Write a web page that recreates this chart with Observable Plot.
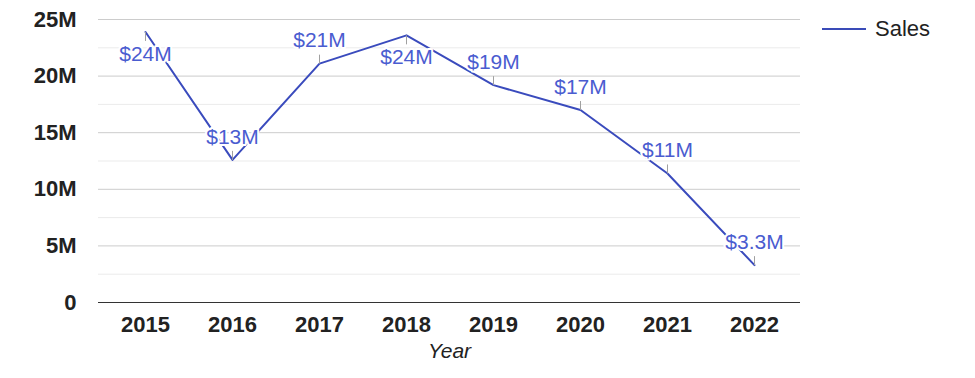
<!DOCTYPE html>
<html>
<head>
<meta charset="utf-8">
<script src="https://cdn.jsdelivr.net/npm/d3@7"></script>
<script src="https://cdn.jsdelivr.net/npm/@observablehq/plot@0.6"></script>
<style>
  html, body { margin: 0; padding: 0; background: #fff; }
  #wrap { position: relative; width: 975px; height: 378px; font-family: Arial, "Liberation Sans", sans-serif; }
  #legend { position: absolute; left: 822px; top: 16px; display: flex; align-items: center; font-size: 22px; color: #222; }
  #legend .sw { width: 44px; height: 2px; background: #3a4bb8; margin-right: 9px; }
</style>
</head>
<body>
<div id="wrap">
  <div id="chart"></div>
  <div id="legend"><span class="sw"></span><span>Sales</span></div>
</div>
<script>
const years = ["2015", "2016", "2017", "2018", "2019", "2020", "2021", "2022"];
const sales = [23.9e6, 12.6e6, 21.1e6, 23.6e6, 19.2e6, 17.0e6, 11.4e6, 3.3e6];
const salesLabels = ["$24M", "$13M", "$21M", "$24M", "$19M", "$17M", "$11M", "$3.3M"];
const yMajorTicks = [0, 5e6, 10e6, 15e6, 20e6, 25e6];
const yMinorTicks = [2.5e6, 7.5e6, 12.5e6, 17.5e6, 22.5e6];
const xTitle = "Year";

const data = years.map((year, i) => {
  const prev = i > 0 ? sales[i - 1] : -Infinity;
  const next = i < sales.length - 1 ? sales[i + 1] : -Infinity;
  return { year, value: sales[i], label: salesLabels[i], peak: sales[i] > prev && sales[i] > next };
});

const tickUp = { draw(ctx) { ctx.moveTo(0, 0); ctx.lineTo(0, -9); } };
const tickDown = { draw(ctx) { ctx.moveTo(0, 0); ctx.lineTo(0, 9); } };

const lineColor = "#3a4bbd";
const labelColor = "#4a5cd0";

const chart = Plot.plot({
  width: 975,
  height: 378,
  marginLeft: 98,
  marginRight: 175,
  marginTop: 19,
  marginBottom: 76,
  style: { fontFamily: "Arial, 'Liberation Sans', sans-serif", background: "#fff" },
  x: { type: "point", domain: years, padding: 0.5 },
  y: { domain: [0, 25e6] },
  marks: [
    Plot.ruleY(yMinorTicks, { stroke: "#ebebeb", strokeWidth: 1 }),
    Plot.ruleY(yMajorTicks.filter(d => d > 0), { stroke: "#cccccc", strokeWidth: 1 }),
    Plot.axisY({
      ticks: yMajorTicks, tickSize: 0, tickPadding: 22, label: null,
      tickFormat: d => d === 0 ? "0" : (d / 1e6) + "M",
      fontSize: 22, fontWeight: "bold", fill: "#222"
    }),
    Plot.axisX({
      tickSize: 0, tickPadding: 14, label: null,
      fontSize: 22, fontWeight: "bold", fill: "#222"
    }),
    Plot.ruleY([0], { stroke: "#333", strokeWidth: 1 }),
    Plot.line(data, { x: "year", y: "value", stroke: lineColor, strokeWidth: 2 }),
    Plot.dot(data.filter(d => !d.peak), { x: "year", y: "value", symbol: tickUp, r: 5, stroke: "#a0a0a0", strokeWidth: 1, fill: "none" }),
    Plot.dot(data.filter(d => d.peak), { x: "year", y: "value", symbol: tickDown, r: 5, stroke: "#a0a0a0", strokeWidth: 1, fill: "none" }),
    Plot.text(data.filter(d => !d.peak), {
      x: "year", y: "value", text: "label", dy: -23,
      fill: labelColor, stroke: "white", strokeWidth: 4, fontSize: 21
    }),
    Plot.text(data.filter(d => d.peak), {
      x: "year", y: "value", text: "label", dy: 22,
      fill: labelColor, stroke: "white", strokeWidth: 4, fontSize: 21
    }),
    Plot.text([xTitle], {
      frameAnchor: "bottom", dy: 55, text: d => d,
      fontSize: 21, fontStyle: "italic", fill: "#222"
    })
  ]
});
document.getElementById("chart").appendChild(chart);
</script>
</body>
</html>
